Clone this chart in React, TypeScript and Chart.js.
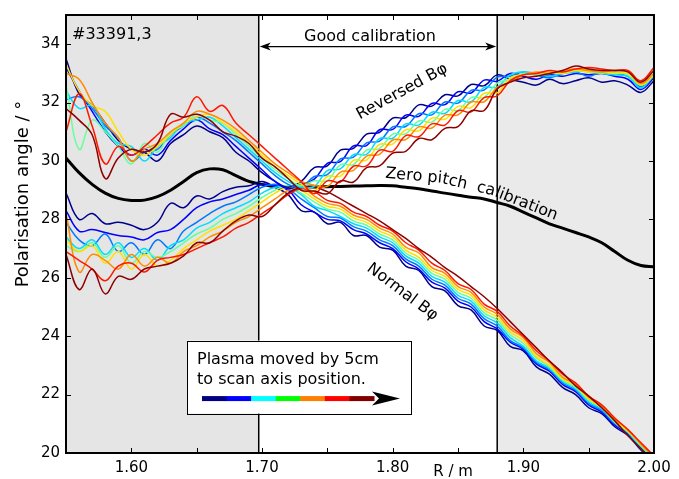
import React, { useEffect, useRef } from "react";
import { Chart, registerables } from "chart.js";

Chart.register(...registerables);

// ---------- data ----------
const R_M = [1.55, 1.56, 1.57, 1.58, 1.59, 1.60, 1.61, 1.62, 1.63, 1.64, 1.65, 1.66, 1.67, 1.68, 1.69, 1.70, 1.71, 1.72, 1.73, 1.74, 1.75, 1.76, 1.77, 1.78, 1.79, 1.80, 1.81, 1.82, 1.83, 1.84, 1.85, 1.86, 1.87, 1.88, 1.89, 1.90, 1.91, 1.92, 1.93, 1.94, 1.95, 1.96, 1.97, 1.98, 1.99, 2.00];

const X_LABEL_TICKS = [1.6, 1.7, 1.8, 1.9, 2.0];
const X_MARK_TICKS = [1.6, 1.65, 1.7, 1.75, 1.8, 1.85, 1.9, 1.95];
const Y_TICKS = [20, 22, 24, 26, 28, 30, 32, 34];
const GOOD_LO = 1.6975;
const GOOD_HI = 1.88;

const normal0 = [28.9, 28.0, 28.2, 27.85, 27.9, 27.8, 27.65, 27.9, 28.55, 28.4, 28.8, 28.7, 28.95, 29.1, 29.15, 29.3, 29.1, 28.85, 28.3, 28.25, 27.85, 27.9, 27.45, 27.45, 27.05, 26.95, 26.4, 26.25, 25.7, 25.55, 25.05, 24.9, 24.35, 24.2, 23.65, 23.5, 22.95, 22.7, 22.25, 22.0, 21.55, 21.35, 20.9, 20.6, 20.1, 19.7];
const normal1 = [28.3, 27.6, 27.65, 27.55, 27.45, 27.4, 27.3, 27.55, 27.65, 28.0, 28.4, 28.6, 28.7, 28.85, 29.0, 29.2, 29.15, 29.0, 28.5, 28.25, 28.0, 27.95, 27.65, 27.5, 27.2, 27.0, 26.55, 26.3, 25.85, 25.65, 25.2, 25.0, 24.5, 24.25, 23.8, 23.55, 23.05, 22.8, 22.35, 22.1, 21.65, 21.4, 20.95, 20.65, 20.15, 19.75];
const normal2 = [27.9, 27.3, 27.1, 27.5, 26.9, 27.2, 26.8, 27.3, 27.0, 27.6, 27.9, 28.2, 28.45, 28.6, 28.85, 29.1, 29.2, 29.05, 28.7, 28.4, 28.1, 28.05, 27.75, 27.6, 27.3, 27.1, 26.65, 26.4, 25.95, 25.75, 25.3, 25.1, 24.6, 24.35, 23.85, 23.6, 23.1, 22.85, 22.4, 22.15, 21.7, 21.45, 21.0, 20.7, 20.15, 19.75];
const normal3 = [27.4, 27.0, 27.3, 26.8, 27.2, 26.7, 27.0, 26.6, 27.1, 27.3, 27.7, 27.9, 28.2, 28.4, 28.6, 28.9, 29.1, 29.1, 28.85, 28.45, 28.3, 28.1, 27.85, 27.7, 27.4, 27.2, 26.75, 26.5, 26.05, 25.85, 25.4, 25.2, 24.7, 24.45, 23.95, 23.65, 23.15, 22.9, 22.45, 22.2, 21.75, 21.5, 21.05, 20.7, 20.2, 19.8];
const normal4 = [27.1, 26.9, 27.2, 26.7, 27.1, 26.5, 26.9, 26.7, 26.9, 27.2, 27.5, 27.7, 28.0, 28.2, 28.45, 28.75, 29.0, 29.15, 28.9, 28.6, 28.35, 28.25, 27.95, 27.8, 27.5, 27.3, 26.85, 26.6, 26.15, 25.95, 25.5, 25.3, 24.8, 24.55, 24.05, 23.75, 23.25, 22.95, 22.5, 22.25, 21.8, 21.55, 21.05, 20.75, 20.25, 19.8];
const normal5 = [27.3, 26.9, 27.1, 26.5, 26.9, 26.3, 26.8, 26.4, 26.6, 27.0, 27.3, 27.6, 27.8, 28.0, 28.3, 28.6, 28.9, 29.1, 29.0, 28.7, 28.45, 28.35, 28.05, 27.9, 27.6, 27.4, 26.95, 26.7, 26.25, 26.05, 25.6, 25.4, 24.9, 24.65, 24.15, 23.85, 23.3, 23.0, 22.55, 22.3, 21.85, 21.55, 21.1, 20.75, 20.3, 19.85];
const normal6 = [28.2, 26.2, 26.8, 26.6, 26.3, 26.8, 26.4, 26.7, 26.5, 26.9, 27.1, 27.4, 27.6, 27.9, 28.1, 28.4, 28.7, 29.0, 29.1, 28.8, 28.55, 28.45, 28.15, 28.0, 27.7, 27.5, 27.05, 26.85, 26.35, 26.15, 25.7, 25.5, 25.0, 24.75, 24.25, 23.95, 23.4, 23.1, 22.6, 22.35, 21.9, 21.6, 21.15, 20.8, 20.3, 19.85];
const normal7 = [26.9, 26.6, 26.3, 25.9, 26.4, 26.5, 26.2, 26.6, 26.7, 26.8, 27.0, 27.2, 27.4, 27.7, 27.9, 28.2, 28.5, 28.85, 29.05, 28.95, 28.65, 28.55, 28.25, 28.1, 27.8, 27.6, 27.2, 26.95, 26.5, 26.25, 25.8, 25.6, 25.1, 24.85, 24.35, 24.0, 23.5, 23.15, 22.7, 22.4, 21.95, 21.65, 21.2, 20.8, 20.35, 19.9];
const normal8 = [26.8, 25.6, 26.3, 25.45, 26.05, 25.95, 26.3, 26.4, 26.5, 26.75, 27.2, 27.2, 27.6, 27.95, 28.15, 28.1, 28.5, 28.9, 29.1, 29.1, 28.95, 28.7, 28.45, 28.2, 27.95, 27.65, 27.35, 27.0, 26.7, 26.35, 26.05, 25.7, 25.35, 24.95, 24.5, 24.05, 23.6, 23.15, 22.75, 22.3, 21.95, 21.55, 21.1, 20.6, 20.15, 19.7];

const reversed0 = [33.5, 32.3, 31.9, 31.3, 30.7, 30.4, 30.3, 30.0, 30.6, 30.9, 31.2, 31.0, 30.8, 30.3, 30.0, 29.6, 29.3, 29.1, 29.3, 29.77, 29.83, 30.37, 30.43, 30.92, 30.98, 31.47, 31.48, 31.92, 31.88, 32.27, 32.23, 32.62, 32.58, 32.95, 32.8, 32.7, 32.6, 32.8, 32.65, 32.75, 32.85, 32.7, 32.75, 32.6, 32.35, 32.75];
const reversed1 = [33.2, 32.4, 31.7, 31.0, 30.5, 30.2, 30.4, 30.2, 30.7, 31.1, 31.4, 31.1, 30.9, 30.5, 30.1, 29.7, 29.3, 29.05, 29.2, 29.38, 29.92, 29.98, 30.52, 30.53, 31.07, 31.08, 31.57, 31.53, 31.97, 31.93, 32.37, 32.33, 32.77, 32.73, 33.0, 32.9, 32.8, 32.95, 32.9, 33.0, 32.95, 33.0, 32.9, 32.8, 32.45, 32.85];
const reversed2 = [32.1, 32.2, 31.8, 31.2, 30.8, 30.0, 30.3, 30.4, 30.9, 31.2, 31.5, 31.3, 31.0, 30.7, 30.3, 29.9, 29.5, 29.2, 29.1, 29.47, 29.53, 30.07, 30.13, 30.62, 30.68, 31.17, 31.18, 31.62, 31.58, 32.02, 31.98, 32.42, 32.43, 32.87, 32.9, 33.05, 32.95, 32.85, 33.0, 33.05, 32.9, 33.05, 33.0, 32.9, 32.55, 32.9];
const reversed3 = [32.4, 31.8, 31.9, 31.1, 30.6, 30.5, 30.0, 30.5, 30.8, 31.3, 31.4, 31.5, 31.2, 30.8, 30.4, 30.0, 29.6, 29.3, 29.1, 29.13, 29.67, 29.73, 30.22, 30.23, 30.77, 30.78, 31.27, 31.23, 31.67, 31.63, 32.07, 32.03, 32.52, 32.53, 32.95, 33.05, 33.0, 32.9, 33.0, 33.05, 33.1, 33.0, 32.95, 32.9, 32.5, 32.95];
const reversed4 = [32.6, 30.4, 31.4, 31.0, 30.5, 29.9, 30.6, 30.3, 31.0, 31.2, 31.6, 31.4, 31.3, 30.9, 30.5, 30.1, 29.7, 29.4, 29.15, 29.32, 29.33, 29.87, 29.88, 30.37, 30.43, 30.92, 30.93, 31.37, 31.33, 31.77, 31.73, 32.17, 32.18, 32.67, 32.8, 33.0, 32.95, 33.0, 33.05, 33.1, 33.05, 33.0, 33.05, 32.95, 32.6, 32.95];
const reversed5 = [33.3, 32.4, 31.9, 31.7, 31.0, 30.4, 30.2, 30.5, 30.9, 31.3, 31.5, 31.6, 31.3, 31.0, 30.6, 30.2, 29.8, 29.5, 29.2, 28.98, 29.47, 29.48, 30.02, 30.03, 30.57, 30.58, 31.07, 31.03, 31.47, 31.43, 31.87, 31.83, 32.32, 32.33, 32.85, 32.95, 33.0, 33.05, 33.0, 33.1, 33.05, 33.05, 33.0, 33.0, 32.6, 32.95];
const reversed6 = [33.0, 32.8, 32.0, 31.3, 30.8, 30.0, 30.4, 30.6, 31.0, 31.3, 31.7, 31.6, 31.4, 31.1, 30.7, 30.3, 29.9, 29.6, 29.3, 29.17, 29.13, 29.62, 29.68, 30.17, 30.23, 30.72, 30.73, 31.17, 31.13, 31.57, 31.58, 32.02, 32.03, 32.52, 32.7, 32.95, 33.05, 33.0, 33.1, 33.15, 33.1, 33.05, 33.1, 33.05, 32.65, 33.0];
const reversed7 = [31.0, 32.3, 31.2, 29.9, 30.5, 30.2, 30.5, 30.9, 31.3, 31.5, 32.2, 31.7, 31.9, 31.3, 30.9, 30.5, 30.1, 29.7, 29.3, 28.88, 29.32, 29.28, 29.82, 29.83, 30.37, 30.33, 30.87, 30.83, 31.27, 31.23, 31.72, 31.68, 32.17, 32.23, 32.75, 32.95, 33.0, 33.1, 33.05, 33.15, 33.2, 33.15, 33.1, 33.1, 32.75, 33.2];
const reversed8 = [31.8, 31.4, 30.9, 29.4, 30.1, 30.4, 30.3, 30.6, 31.6, 31.5, 31.6, 31.4, 31.0, 30.85, 30.6, 30.1, 29.8, 29.4, 29.0, 28.97, 28.88, 29.32, 29.28, 29.77, 29.83, 30.27, 30.33, 30.77, 30.73, 31.12, 31.18, 31.72, 31.73, 32.47, 32.7, 32.85, 32.9, 33.0, 33.1, 33.25, 33.15, 33.1, 33.1, 33.05, 32.7, 33.1];

const zeroPitch = [30.1, 29.6, 29.2, 28.9, 28.72, 28.65, 28.66, 28.78, 29.0, 29.3, 29.6, 29.73, 29.7, 29.5, 29.3, 29.2, 29.12, 29.1, 29.1, 29.11, 29.12, 29.13, 29.14, 29.15, 29.16, 29.15, 29.1, 29.05, 28.97, 28.9, 28.83, 28.76, 28.7, 28.58, 28.45, 28.25, 28.05, 27.85, 27.7, 27.55, 27.4, 27.2, 26.9, 26.6, 26.42, 26.38];

const NORMAL = [normal0, normal1, normal2, normal3, normal4, normal5, normal6, normal7, normal8];
const REVERSED = [reversed0, reversed1, reversed2, reversed3, reversed4, reversed5, reversed6, reversed7, reversed8];
const JET = ["#00008c", "#0000ff", "#0078ff", "#00dcff", "#66ff99", "#ffe000", "#ff8c00", "#ff1800", "#8c0000"];
const LEGEND_COLORS = ["#000080", "#0000ff", "#00ffff", "#00ff00", "#ff7f00", "#ff0000", "#800000"];

const FONT = '"DejaVu Sans", "Liberation Sans", sans-serif';

function textAlong(ctx: CanvasRenderingContext2D, text: string, pts: number[][]) {
  const segs: any[] = [];
  let total = 0;
  for (let i = 0; i < pts.length - 1; i++) {
    const dx = pts[i + 1][0] - pts[i][0];
    const dy = pts[i + 1][1] - pts[i][1];
    const L = Math.hypot(dx, dy);
    segs.push({ x: pts[i][0], y: pts[i][1], dx, dy, L, s: total });
    total += L;
  }
  let s = 0;
  for (const ch of text) {
    const w = ctx.measureText(ch).width;
    const m = s + w / 2;
    let seg = segs[segs.length - 1];
    for (const g of segs) {
      if (m <= g.s + g.L) { seg = g; break; }
    }
    const t = (m - seg.s) / seg.L;
    ctx.save();
    ctx.translate(seg.x + seg.dx * t, seg.y + seg.dy * t);
    ctx.rotate(Math.atan2(seg.dy, seg.dx));
    ctx.textAlign = "center";
    ctx.textBaseline = "alphabetic";
    ctx.fillText(ch, 0, 0);
    ctx.restore();
    s += w;
  }
}

const decorations = {
  id: "decorations",
  beforeDatasetsDraw(chart: any) {
    const { ctx, chartArea: a, scales } = chart;
    const x = scales.x;
    const xl = x.getPixelForValue(GOOD_LO);
    const xh = x.getPixelForValue(GOOD_HI);
    ctx.save();
    ctx.fillStyle = "#e5e5e5";
    ctx.fillRect(a.left, a.top, xl - a.left, a.bottom - a.top);
    ctx.fillStyle = "#eaeaea";
    ctx.fillRect(xh, a.top, a.right - xh, a.bottom - a.top);
    ctx.strokeStyle = "#000";
    ctx.lineWidth = 1.5;
    ctx.beginPath();
    ctx.moveTo(xl, a.top); ctx.lineTo(xl, a.bottom);
    ctx.moveTo(xh, a.top); ctx.lineTo(xh, a.bottom);
    ctx.stroke();
    ctx.restore();
  },
  afterDatasetsDraw(chart: any) {
    const { ctx, chartArea: a, scales } = chart;
    const x = scales.x;
    const y = scales.y;
    const px = (v: number) => x.getPixelForValue(v);
    const py = (v: number) => y.getPixelForValue(v);
    ctx.save();
    ctx.strokeStyle = "#000";
    ctx.fillStyle = "#000";

    // ticks (inward, all four sides)
    ctx.lineWidth = 1;
    ctx.beginPath();
    for (const v of X_MARK_TICKS) {
      const p = Math.round(px(v)) + 0.5;
      ctx.moveTo(p, a.bottom); ctx.lineTo(p, a.bottom - 5);
      ctx.moveTo(p, a.top); ctx.lineTo(p, a.top + 5);
    }
    for (const v of Y_TICKS) {
      const p = Math.round(py(v)) + 0.5;
      ctx.moveTo(a.left, p); ctx.lineTo(a.left + 5, p);
      ctx.moveTo(a.right, p); ctx.lineTo(a.right - 5, p);
    }
    ctx.stroke();

    // frame
    ctx.lineWidth = 2;
    ctx.strokeRect(a.left, a.top, a.right - a.left, a.bottom - a.top);

    // axis titles
    ctx.font = `18px ${FONT}`;
    ctx.textAlign = "center";
    ctx.textBaseline = "alphabetic";
    ctx.save();
    ctx.translate(27.5, 194);
    ctx.rotate(-Math.PI / 2);
    ctx.fillText("Polarisation angle / \u00b0", 0, 0);
    ctx.restore();
    ctx.font = `15px ${FONT}`;
    ctx.fillText("R / m", 453, 476);

    // shot label
    ctx.font = `16px ${FONT}`;
    ctx.textAlign = "left";
    ctx.fillText("#33391,3", px(1.5546), py(34.19));

    // good calibration
    ctx.textAlign = "center";
    ctx.fillText("Good calibration", px(1.7827), py(34.12));
    const ay = py(33.92);
    const x0 = px(GOOD_LO) + 1, x1 = px(GOOD_HI) - 1;
    ctx.lineWidth = 1.3;
    ctx.beginPath();
    ctx.moveTo(x0 + 4, ay); ctx.lineTo(x1 - 4, ay);
    ctx.stroke();
    ctx.beginPath();
    ctx.moveTo(x0, ay); ctx.lineTo(x0 + 11, ay - 4); ctx.lineTo(x0 + 8, ay); ctx.lineTo(x0 + 11, ay + 4); ctx.closePath();
    ctx.moveTo(x1, ay); ctx.lineTo(x1 - 11, ay - 4); ctx.lineTo(x1 - 8, ay); ctx.lineTo(x1 - 11, ay + 4); ctx.closePath();
    ctx.fill();

    // Reversed label
    ctx.save();
    ctx.translate(px(1.8087), py(32.25));
    ctx.rotate(-28.6 * Math.PI / 180);
    ctx.textAlign = "center";
    ctx.fillText("Reversed B\u03c6", 0, 0);
    ctx.restore();

    // Normal label
    ctx.save();
    ctx.translate(px(1.8055), py(25.4));
    ctx.rotate(37 * Math.PI / 180);
    ctx.textAlign = "center";
    ctx.fillText("Normal B\u03c6", 0, 0);
    ctx.restore();

    // Zero pitch calibration along path
    const path = [
      [px(1.7941), py(29.43)],
      [px(1.8362), py(29.26)],
      [px(1.8745), py(28.85)],
      [px(1.935), py(27.8)],
    ];
    textAlong(ctx, "Zero pitch  calibration", path);

    // legend box
    const bx = px(1.6426), by = py(23.85);
    const bw = px(1.814) - bx, bh = py(21.35) - by;
    ctx.fillStyle = "#fff";
    ctx.fillRect(bx, by, bw, bh);
    ctx.lineWidth = 1;
    ctx.strokeStyle = "#000";
    ctx.strokeRect(Math.round(bx) + 0.5, Math.round(by) + 0.5, Math.round(bw), Math.round(bh));
    ctx.fillStyle = "#000";
    ctx.textAlign = "left";
    ctx.font = `16px ${FONT}`;
    ctx.fillText("Plasma moved by 5cm", bx + 10, by + 23);
    ctx.fillText("to scan axis position.", bx + 10, by + 43);
    const barY = by + 58;
    const barX0 = bx + 15, barX1 = bx + 187;
    const segW = (barX1 - barX0) / LEGEND_COLORS.length;
    LEGEND_COLORS.forEach((c, i) => {
      ctx.fillStyle = c;
      ctx.fillRect(barX0 + i * segW, barY - 2.5, segW + 0.5, 5);
    });
    ctx.fillStyle = "#000";
    const tipX = bx + 213;
    ctx.beginPath();
    ctx.moveTo(tipX, barY);
    ctx.lineTo(tipX - 28, barY - 7);
    ctx.lineTo(tipX - 21, barY);
    ctx.lineTo(tipX - 28, barY + 7);
    ctx.closePath();
    ctx.fill();

    ctx.restore();
  },
};

export default function App() {
  const ref = useRef<HTMLCanvasElement | null>(null);
  useEffect(() => {
    if (!ref.current) return;
    const mk = (arr: number[]) => R_M.map((r, i) => ({ x: r, y: arr[i] }));
    const ds: any[] = [];
    ds.push({ data: mk(zeroPitch), borderColor: "#000", borderWidth: 3, pointRadius: 0, tension: 0.4, fill: false });
    NORMAL.forEach((arr, k) => ds.push({ data: mk(arr), borderColor: JET[k], borderWidth: 1.5, pointRadius: 0, tension: 0.4, fill: false }));
    REVERSED.forEach((arr, k) => ds.push({ data: mk(arr), borderColor: JET[k], borderWidth: 1.5, pointRadius: 0, tension: 0.4, fill: false }));
    ds.reverse();

    const chart = new Chart(ref.current, {
      type: "line",
      data: { datasets: ds },
      options: {
        animation: false,
        responsive: false,
        devicePixelRatio: 1,
        layout: { padding: { top: 9, right: 25, left: 0, bottom: 0 } },
        plugins: { legend: { display: false }, tooltip: { enabled: false } },
        scales: {
          x: {
            type: "linear",
            min: 1.55,
            max: 2.0,
            grid: { display: false, drawTicks: false },
            border: { display: false },
            afterBuildTicks: (s: any) => { s.ticks = X_LABEL_TICKS.map((v) => ({ value: v })); },
            afterFit: (s: any) => { s.height = 26; },
            ticks: {
              padding: 6,
              color: "#000",
              font: { family: FONT, size: 15 },
              maxRotation: 0,
              autoSkip: false,
              callback: (v: any) => Number(v).toFixed(2),
            },
          },
          y: {
            type: "linear",
            min: 20,
            max: 35,
            grid: { display: false, drawTicks: false },
            border: { display: false },
            afterBuildTicks: (s: any) => { s.ticks = Y_TICKS.map((v) => ({ value: v })); },
            afterFit: (s: any) => { s.width = 66; },
            ticks: {
              padding: 6,
              color: "#000",
              font: { family: FONT, size: 15 },
              autoSkip: false,
              callback: (v: any) => String(v),
            },
          },
        },
      },
      plugins: [decorations],
    });
    return () => chart.destroy();
  }, []);

  return (
    <div style={{ position: "fixed", left: 0, top: 0, width: 679, height: 479, background: "#fff" }}>
      <canvas ref={ref} width={679} height={479} style={{ width: 679, height: 479, display: "block" }} />
    </div>
  );
}
